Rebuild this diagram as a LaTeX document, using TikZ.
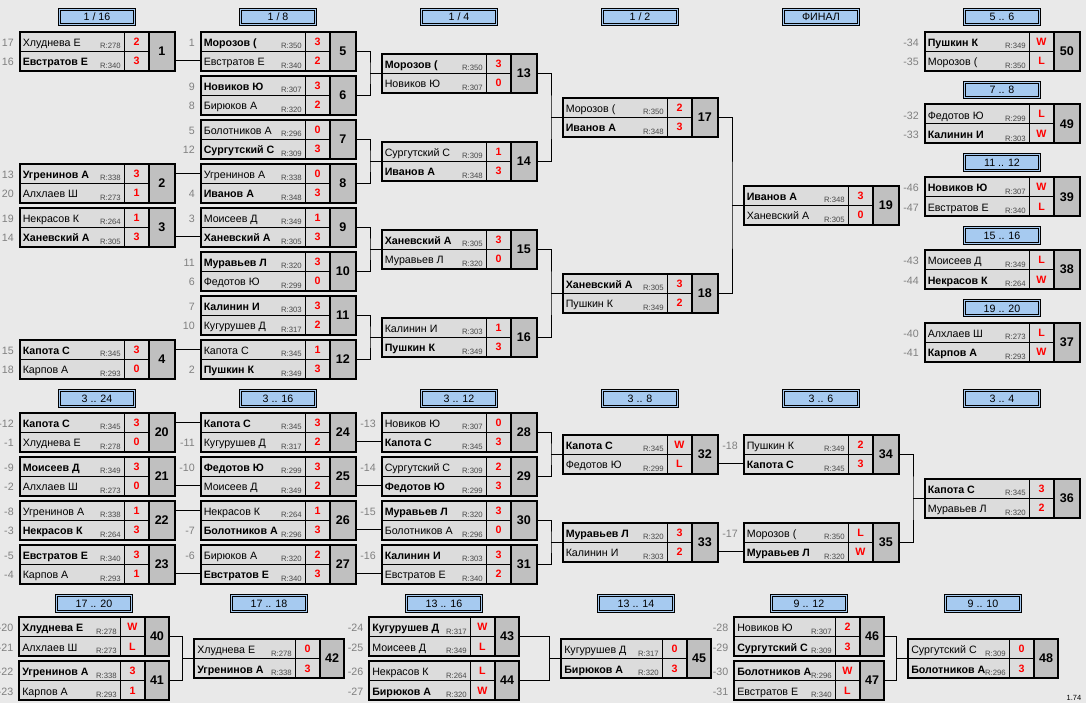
\documentclass[tikz,border=0pt]{standalone}
\usepackage{fontspec}
\setmainfont{Liberation Sans}

\definecolor{bggray}{RGB}{233,233,233}
\definecolor{cellgray}{RGB}{220,220,220}
\definecolor{numgray}{RGB}{192,192,192}
\definecolor{hdrblue}{RGB}{166,202,240}
\definecolor{seedgray}{RGB}{128,128,128}
\definecolor{ratgray}{RGB}{72,72,72}

\tikzset{
  boxline/.style={line width=1.5pt},
  thinline/.style={line width=0.75pt},
  link/.style={line width=0.75pt},
  pname/.style={inner sep=0pt, font=\fontsize{8}{9}\selectfont},
  wname/.style={inner sep=0pt, font=\fontsize{8}{9}\selectfont\bfseries},
  rating/.style={inner sep=0.4pt, fill=cellgray, text=ratgray, font=\fontsize{5.8}{6}\selectfont},
  score/.style={inner sep=0pt, text=red, text height=5.8pt, text depth=0pt, font=\fontsize{8}{9}\selectfont\bfseries},
  gnum/.style={inner sep=0pt, text height=6.7pt, text depth=0pt, font=\fontsize{9.4}{10}\selectfont\bfseries},
  seed/.style={inner sep=0pt, text=seedgray, font=\fontsize{8}{9}\selectfont},
  hdr/.style={draw, fill=hdrblue, double=hdrblue, double distance=0.75pt, line width=0.75pt,
    minimum width=56.25pt, minimum height=11.5pt, inner sep=0pt,
    text height=5.7pt, text depth=0pt, font=\fontsize{8}{9}\selectfont}
}

% widths of the name cell and of the number cell
\newcommand{\nw}{104.5}
\newcommand{\kw}{25.5}

% box of one game: id, left, top, number
\newcommand{\game}[4]{%
  \fill[cellgray] (#2,#3) rectangle ++(\nw+25,39);
  \fill[numgray] (#2+\nw+25,#3) rectangle ++(\kw,39);
  \draw[thinline] (#2,#3+19.5) -- ++(\nw+25,0);
  \draw[thinline] (#2+\nw,#3) -- ++(0,39);
  \draw[boxline] (#2,#3) rectangle ++(\nw+25+\kw,39);
  \draw[boxline] (#2+\nw+25,#3) -- ++(0,39);
  \node[gnum] (#1) at (#2+\nw+25+\kw/2,#3+19.5) {#4};
  \coordinate (#1-i) at (#2,#3+19.5);
  \coordinate (#1-j) at (#2-11.5,#3+19.5);
  \coordinate (#1-o) at (#2+\nw+25+\kw,#3+19.5);
  \foreach \rr/\dy in {a/0,b/19.5} {
    \coordinate (#1-\rr) at (#2,#3+\dy+9.75);
    \coordinate (#1-o\rr) at (#2+\nw+25+\kw,#3+\dy+9.75);
    \coordinate (#1-p\rr) at (#2-5.5,#3+\dy+14.75);
    \coordinate (#1-n\rr) at (#2+3,#3+\dy+14.75);
    \coordinate (#1-r\rr) at (#2+\nw-2.5,#3+\dy+17.25);
    \coordinate (#1-s\rr) at (#2+\nw+12.5,#3+\dy+9.75);
  }
}

% one player row: id, row, seed, name, rating, score, style
\newcommand{\plrx}[7]{%
  \node[seed, anchor=base east] (#1-d#2) at (#1-p#2) {#3};
  \node[#7, anchor=base west] (#1-t#2) at (#1-n#2) {#4};
  \node[rating, anchor=base east] (#1-q#2) at (#1-r#2) {R:#5};
  \node[score] (#1-v#2) at (#1-s#2) {#6};
}
\newcommand{\plr}[6]{\plrx{#1}{#2}{#3}{#4}{#5}{#6}{pname}}
\newcommand{\plrw}[6]{\plrx{#1}{#2}{#3}{#4}{#5}{#6}{wname}}

\begin{document}
\begin{tikzpicture}[x=0.75pt,y=-0.75pt]
  \fill[bggray] (0,0) rectangle (1086,703);
  \useasboundingbox (0,0) rectangle (1086,703);

  % headers
  \node[hdr] (h1) at (97,17) {1 / 16};
  \node[hdr] (h2) at (278,17) {1 / 8};
  \node[hdr] (h3) at (459,17) {1 / 4};
  \node[hdr] (h4) at (640,17) {1 / 2};
  \node[hdr] (h5) at (821,17) {ФИНАЛ};
  \node[hdr] (h6) at (1002,17) {5 .. 6};
  \node[hdr] (h7) at (1002,89.8) {7 .. 8};
  \node[hdr] (h8) at (1002,162.6) {11 .. 12};
  \node[hdr] (h9) at (1002,235.4) {15 .. 16};
  \node[hdr] (h10) at (1002,308.2) {19 .. 20};
  \node[hdr] (h11) at (97,398.5) {3 .. 24};
  \node[hdr] (h12) at (278,398.5) {3 .. 16};
  \node[hdr] (h13) at (459,398.5) {3 .. 12};
  \node[hdr] (h14) at (640,398.5) {3 .. 8};
  \node[hdr] (h15) at (821,398.5) {3 .. 6};
  \node[hdr] (h16) at (1002,398.5) {3 .. 4};
  \node[hdr] (h17) at (94,603.5) {17 .. 20};
  \node[hdr] (h18) at (269,603.5) {17 .. 18};
  \node[hdr] (h19) at (444,603.5) {13 .. 16};
  \node[hdr] (h20) at (636,603.5) {13 .. 14};
  \node[hdr] (h21) at (809,603.5) {9 .. 12};
  \node[hdr] (h22) at (983,603.5) {9 .. 10};

  % main bracket
  \game{g1}{19.5}{31.5}{1}
  \plr{g1}{a}{17}{Хлуднева Е}{278}{2}
  \plrw{g1}{b}{16}{Евстратов Е}{340}{3}
  \game{g2}{19.5}{163.5}{2}
  \plrw{g2}{a}{13}{Угренинов А}{338}{3}
  \plr{g2}{b}{20}{Алхлаев Ш}{273}{1}
  \game{g3}{19.5}{207.5}{3}
  \plr{g3}{a}{19}{Некрасов К}{264}{1}
  \plrw{g3}{b}{14}{Ханевский А}{305}{3}
  \game{g4}{19.5}{339.5}{4}
  \plrw{g4}{a}{15}{Капота С}{345}{3}
  \plr{g4}{b}{18}{Карпов А}{293}{0}

  \game{g5}{200.5}{31.5}{5}
  \plrw{g5}{a}{1}{Морозов (}{350}{3}
  \plr{g5}{b}{}{Евстратов Е}{340}{2}
  \game{g6}{200.5}{75.5}{6}
  \plrw{g6}{a}{9}{Новиков Ю}{307}{3}
  \plr{g6}{b}{8}{Бирюков А}{320}{2}
  \game{g7}{200.5}{119.5}{7}
  \plr{g7}{a}{5}{Болотников А}{296}{0}
  \plrw{g7}{b}{12}{Сургутский С}{309}{3}
  \game{g8}{200.5}{163.5}{8}
  \plr{g8}{a}{}{Угренинов А}{338}{0}
  \plrw{g8}{b}{4}{Иванов А}{348}{3}
  \game{g9}{200.5}{207.5}{9}
  \plr{g9}{a}{3}{Моисеев Д}{349}{1}
  \plrw{g9}{b}{}{Ханевский А}{305}{3}
  \game{g10}{200.5}{251.5}{10}
  \plrw{g10}{a}{11}{Муравьев Л}{320}{3}
  \plr{g10}{b}{6}{Федотов Ю}{299}{0}
  \game{g11}{200.5}{295.5}{11}
  \plrw{g11}{a}{7}{Калинин И}{303}{3}
  \plr{g11}{b}{10}{Кугурушев Д}{317}{2}
  \game{g12}{200.5}{339.5}{12}
  \plr{g12}{a}{}{Капота С}{345}{1}
  \plrw{g12}{b}{2}{Пушкин К}{349}{3}

  \game{g13}{381.5}{53.5}{13}
  \plrw{g13}{a}{}{Морозов (}{350}{3}
  \plr{g13}{b}{}{Новиков Ю}{307}{0}
  \game{g14}{381.5}{141.5}{14}
  \plr{g14}{a}{}{Сургутский С}{309}{1}
  \plrw{g14}{b}{}{Иванов А}{348}{3}
  \game{g15}{381.5}{229.5}{15}
  \plrw{g15}{a}{}{Ханевский А}{305}{3}
  \plr{g15}{b}{}{Муравьев Л}{320}{0}
  \game{g16}{381.5}{317.5}{16}
  \plr{g16}{a}{}{Калинин И}{303}{1}
  \plrw{g16}{b}{}{Пушкин К}{349}{3}

  \game{g17}{562.5}{97.5}{17}
  \plr{g17}{a}{}{Морозов (}{350}{2}
  \plrw{g17}{b}{}{Иванов А}{348}{3}
  \game{g18}{562.5}{273.5}{18}
  \plrw{g18}{a}{}{Ханевский А}{305}{3}
  \plr{g18}{b}{}{Пушкин К}{349}{2}

  \game{g19}{743.5}{185.5}{19}
  \plrw{g19}{a}{}{Иванов А}{348}{3}
  \plr{g19}{b}{}{Ханевский А}{305}{0}

  % places 5 .. 20
  \game{g50}{924.5}{31.5}{50}
  \plrw{g50}{a}{-34}{Пушкин К}{349}{W}
  \plr{g50}{b}{-35}{Морозов (}{350}{L}
  \game{g49}{924.5}{104.3}{49}
  \plr{g49}{a}{-32}{Федотов Ю}{299}{L}
  \plrw{g49}{b}{-33}{Калинин И}{303}{W}
  \game{g39}{924.5}{177.1}{39}
  \plrw{g39}{a}{-46}{Новиков Ю}{307}{W}
  \plr{g39}{b}{-47}{Евстратов Е}{340}{L}
  \game{g38}{924.5}{249.9}{38}
  \plr{g38}{a}{-43}{Моисеев Д}{349}{L}
  \plrw{g38}{b}{-44}{Некрасов К}{264}{W}
  \game{g37}{924.5}{322.7}{37}
  \plr{g37}{a}{-40}{Алхлаев Ш}{273}{L}
  \plrw{g37}{b}{-41}{Карпов А}{293}{W}

  % places 3 .. 24
  \game{g20}{19.5}{412.5}{20}
  \plrw{g20}{a}{-12}{Капота С}{345}{3}
  \plr{g20}{b}{-1}{Хлуднева Е}{278}{0}
  \game{g21}{19.5}{456.5}{21}
  \plrw{g21}{a}{-9}{Моисеев Д}{349}{3}
  \plr{g21}{b}{-2}{Алхлаев Ш}{273}{0}
  \game{g22}{19.5}{500.5}{22}
  \plr{g22}{a}{-8}{Угренинов А}{338}{1}
  \plrw{g22}{b}{-3}{Некрасов К}{264}{3}
  \game{g23}{19.5}{544.5}{23}
  \plrw{g23}{a}{-5}{Евстратов Е}{340}{3}
  \plr{g23}{b}{-4}{Карпов А}{293}{1}

  \game{g24}{200.5}{412.5}{24}
  \plrw{g24}{a}{}{Капота С}{345}{3}
  \plr{g24}{b}{-11}{Кугурушев Д}{317}{2}
  \game{g25}{200.5}{456.5}{25}
  \plrw{g25}{a}{-10}{Федотов Ю}{299}{3}
  \plr{g25}{b}{}{Моисеев Д}{349}{2}
  \game{g26}{200.5}{500.5}{26}
  \plr{g26}{a}{}{Некрасов К}{264}{1}
  \plrw{g26}{b}{-7}{Болотников А}{296}{3}
  \game{g27}{200.5}{544.5}{27}
  \plr{g27}{a}{-6}{Бирюков А}{320}{2}
  \plrw{g27}{b}{}{Евстратов Е}{340}{3}

  \game{g28}{381.5}{412.5}{28}
  \plr{g28}{a}{-13}{Новиков Ю}{307}{0}
  \plrw{g28}{b}{}{Капота С}{345}{3}
  \game{g29}{381.5}{456.5}{29}
  \plr{g29}{a}{-14}{Сургутский С}{309}{2}
  \plrw{g29}{b}{}{Федотов Ю}{299}{3}
  \game{g30}{381.5}{500.5}{30}
  \plrw{g30}{a}{-15}{Муравьев Л}{320}{3}
  \plr{g30}{b}{}{Болотников А}{296}{0}
  \game{g31}{381.5}{544.5}{31}
  \plrw{g31}{a}{-16}{Калинин И}{303}{3}
  \plr{g31}{b}{}{Евстратов Е}{340}{2}

  \game{g32}{562.5}{434.5}{32}
  \plrw{g32}{a}{}{Капота С}{345}{W}
  \plr{g32}{b}{}{Федотов Ю}{299}{L}
  \game{g33}{562.5}{522.5}{33}
  \plrw{g33}{a}{}{Муравьев Л}{320}{3}
  \plr{g33}{b}{}{Калинин И}{303}{2}

  \game{g34}{743.5}{434.5}{34}
  \plr{g34}{a}{-18}{Пушкин К}{349}{2}
  \plrw{g34}{b}{}{Капота С}{345}{3}
  \game{g35}{743.5}{522.5}{35}
  \plr{g35}{a}{-17}{Морозов (}{350}{L}
  \plrw{g35}{b}{}{Муравьев Л}{320}{W}

  \game{g36}{924.5}{478.5}{36}
  \plrw{g36}{a}{}{Капота С}{345}{3}
  \plr{g36}{b}{}{Муравьев Л}{320}{2}

  % places 9 .. 20
  \renewcommand{\nw}{101}
  \renewcommand{\kw}{24}
  \game{g40}{19}{617}{40}
  \plrw{g40}{a}{-20}{Хлуднева Е}{278}{W}
  \plr{g40}{b}{-21}{Алхлаев Ш}{273}{L}
  \game{g41}{19}{661}{41}
  \plrw{g41}{a}{-22}{Угренинов А}{338}{3}
  \plr{g41}{b}{-23}{Карпов А}{293}{1}
  \game{g42}{194}{639}{42}
  \plr{g42}{a}{}{Хлуднева Е}{278}{0}
  \plrw{g42}{b}{}{Угренинов А}{338}{3}
  \game{g43}{369}{617}{43}
  \plrw{g43}{a}{-24}{Кугурушев Д}{317}{W}
  \plr{g43}{b}{-25}{Моисеев Д}{349}{L}
  \game{g44}{369}{661}{44}
  \plr{g44}{a}{-26}{Некрасов К}{264}{L}
  \plrw{g44}{b}{-27}{Бирюков А}{320}{W}
  \game{g45}{561}{639}{45}
  \plr{g45}{a}{}{Кугурушев Д}{317}{0}
  \plrw{g45}{b}{}{Бирюков А}{320}{3}
  \game{g46}{734}{617}{46}
  \plr{g46}{a}{-28}{Новиков Ю}{307}{2}
  \plrw{g46}{b}{-29}{Сургутский С}{309}{3}
  \game{g47}{734}{661}{47}
  \plrw{g47}{a}{-30}{Болотников А}{296}{W}
  \plr{g47}{b}{-31}{Евстратов Е}{340}{L}
  \game{g48}{908}{639}{48}
  \plr{g48}{a}{}{Сургутский С}{309}{0}
  \plrw{g48}{b}{}{Болотников А}{296}{3}

  % connectors
  \foreach \u/\v in {g1-ob/g5-b, g2-oa/g8-a, g3-ob/g9-b, g4-oa/g12-a,
      g20-oa/g24-a, g21-ob/g25-b, g22-oa/g26-a, g23-ob/g27-b,
      g24-ob/g28-b, g25-ob/g29-b, g26-ob/g30-b, g27-ob/g31-b,
      g32-ob/g34-b, g33-ob/g35-b}
    \draw[link] (\u) -- (\v);
  \foreach \u/\v/\w in {g5/g6/g13, g7/g8/g14, g9/g10/g15, g11/g12/g16,
      g13/g14/g17, g15/g16/g18, g17/g18/g19, g28/g29/g32, g30/g31/g33,
      g34/g35/g36, g40/g41/g42, g43/g44/g45, g46/g47/g48}
    \draw[link] (\u-o) -| (\w-j) |- (\v-o) (\w-j) -- (\w-i);

  \node[anchor=base east, inner sep=0pt, font=\fontsize{5.6}{6}\selectfont] (ver) at (1081.5,700.7) {1.74};
\end{tikzpicture}
\end{document}
